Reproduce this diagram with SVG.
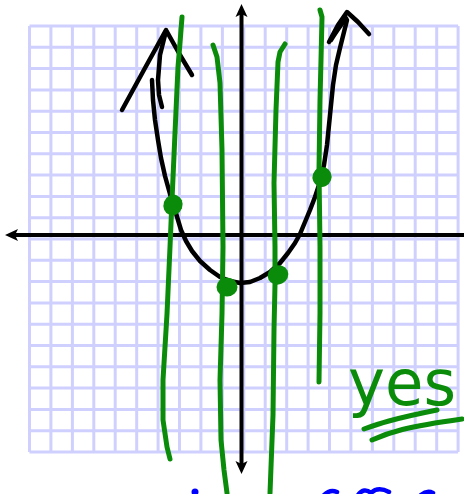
<svg xmlns="http://www.w3.org/2000/svg" width="464" height="494" viewBox="0 0 464 494">
<style>
.grid{stroke:#d0d0ff;stroke-width:3;fill:none}
.axis{stroke:#000;stroke-width:4;fill:none}
.ink{stroke:#000;stroke-width:4.5;fill:none;stroke-linecap:round;stroke-linejoin:round}
.g{stroke:#0a8c0a;stroke-width:5;fill:none;stroke-linecap:round;stroke-linejoin:round}
.dot{fill:#0a8c0a}
.blue{stroke:#0000ff;stroke-width:4.5;fill:none;stroke-linecap:round}
</style>
<rect width="464" height="494" fill="#fff"/>
<g id="grid" class="grid">
<path d="M29.5,26V452M50.9,26V452M72.4,26V452M93.8,26V452M115.2,26V452M136.7,26V452M158.1,26V452M179.5,26V452M200.9,26V452M222.4,26V452M243.8,26V452M265.2,26V452M286.7,26V452M308.1,26V452M329.5,26V452M350.9,26V452M372.4,26V452M393.8,26V452M415.2,26V452M436.7,26V452M458.1,26V452"/>
<path d="M29.5,26H458.1M29.5,47.3H458.1M29.5,68.6H458.1M29.5,89.9H458.1M29.5,111.2H458.1M29.5,132.5H458.1M29.5,153.8H458.1M29.5,175.1H458.1M29.5,196.4H458.1M29.5,217.7H458.1M29.5,239H458.1M29.5,260.3H458.1M29.5,281.6H458.1M29.5,302.9H458.1M29.5,324.2H458.1M29.5,345.5H458.1M29.5,366.8H458.1M29.5,388.1H458.1M29.5,409.4H458.1M29.5,430.7H458.1M29.5,452H458.1"/>
</g>
<g id="axes">
<path class="axis" d="M14,235H464M241.5,14V464"/>
<polygon points="5,235 18,229 15,235 18,241" fill="#000"/>
<polygon points="241.5,4 235.5,17 241.5,14 247.5,17" fill="#000"/>
<polygon points="241.5,474 235.5,461 241.5,464 247.5,461" fill="#000"/>
</g>
<g id="parabola">
<polyline class="ink" points="152,80 153,100 155,120 158,140 161,158 165,176 170,194 175,210 181,230 186,241 192,251 200,261 210,270 220,277 230,281 240,283 250,282 260,278 270,272 280,263 288,253 295,243 300,234 305,222 310,210 315,197 320,182 324,165 327,145 329,125 331,105 333,85 336,65 340,48 344,32 347,20"/>
<polyline class="ink" points="122,110 145,68 166,30 180,55 192,75"/>
<polyline class="ink" points="166,31 160,55 158,80 159,95 162,107"/>
<polyline class="ink" points="329,42 338,25 347,12 358,22 369,34"/>
<path class="ink" d="M331,40 C336,32 341,25 346,18"/>
</g>
<g id="vertical-lines">
<polyline class="g" points="182,17 180,43 178,67 175,133 172,200 170,247 167,314 163,380 163,420 167,447 170,459"/>
<polyline class="g" points="213,45 217,57 220,83 222,150 223,247 222,314 220,380 221,440 224,470 227,493"/>
<polyline class="g" points="285,44 280,52 278,62 276,110 274,183 275,247 275,284 274,330 273,415 270,493"/>
<polyline class="g" points="320,10 322,17 321,60 320,100 319,170 320,247 320,313 319,382"/>
</g>
<g id="points">
<ellipse class="dot" cx="173" cy="205" rx="9.5" ry="10.5" transform="rotate(20 173 205)"/>
<ellipse class="dot" cx="227" cy="287" rx="10.5" ry="9.5"/>
<ellipse class="dot" cx="278" cy="275" rx="10.5" ry="9.5" transform="rotate(-25 278 275)"/>
<ellipse class="dot" cx="322" cy="177" rx="9.5" ry="10" transform="rotate(20 322 177)"/>
</g>
<g id="answer">
<text x="348" y="405" font-family="'DejaVu Sans', sans-serif" font-size="64" fill="#0a8c0a" textLength="108" lengthAdjust="spacingAndGlyphs">yes</text>
<path class="g" d="M364,429 C378,424 392,419 437,410"/>
<path class="g" d="M372,440 C390,432 405,427 462,419"/>
</g>
<g id="bottom-marks">
<circle cx="195" cy="492" r="3.5" fill="#0000ff"/>
<path class="blue" d="M324,495 Q330,489 337,492"/>
<path class="blue" d="M358,495 Q364,487 371,493 Q378,486 389,492"/>
<path class="blue" d="M421,495 Q427,490 433,493"/>
</g>
</svg>
